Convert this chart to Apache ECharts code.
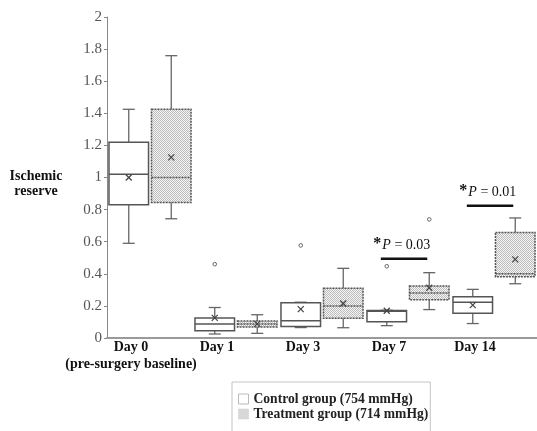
<!DOCTYPE html>
<html><head><meta charset="utf-8">
<script src="https://cdn.jsdelivr.net/npm/echarts@6/dist/echarts.min.js"></script>
<style>html,body{margin:0;padding:0;background:#fff}#c{width:537px;height:431px}</style>
</head><body><div id="c"></div>
<script>
const categories = ['Day 0\n(pre-surgery baseline)', 'Day 1', 'Day 3', 'Day 7', 'Day 14'];
const yMin = 0, yMax = 2, yStep = 0.2;
// [lower whisker, Q1, median, Q3, upper whisker]
const controlBox = [
  [0.59, 0.83, 1.02, 1.22, 1.425],
  [0.025, 0.045, 0.088, 0.125, 0.19],
  [0.065, 0.072, 0.108, 0.22, 0.223],
  [0.077, 0.102, 0.166, 0.172, 0.173],
  [0.09, 0.154, 0.222, 0.257, 0.303]
];
const controlMean = [1.0, 0.125, 0.18, 0.17, 0.205];
const controlOutliers = [[1, 0.46], [2, 0.577], [3, 0.447]];
const treatmentBox = [
  [0.743, 0.845, 1.0, 1.425, 1.759],
  [0.029, 0.069, 0.088, 0.106, 0.145],
  [0.064, 0.123, 0.2, 0.31, 0.434],
  [0.177, 0.239, 0.28, 0.324, 0.407],
  [0.338, 0.382, 0.40, 0.658, 0.748]
];
const treatmentMean = [1.125, 0.088, 0.215, 0.313, 0.49];
const treatmentOutliers = [[3, 0.739]];
const sigCategory = [3, 4];
const sigValue = [0.494, 0.824];
const sigLabel = ['0.03', '0.01'];
const seriesNames = ['Control group (754 mmHg)', 'Treatment group (714 mmHg)'];

const SERIF = '"Liberation Serif", "Times New Roman", serif';

const pc = document.createElement('canvas'); pc.width = 2; pc.height = 2;
const g = pc.getContext('2d');
g.fillStyle = '#f5f5f5'; g.fillRect(0, 0, 2, 2);
g.fillStyle = '#bcbcbc'; g.fillRect(0, 0, 1, 1); g.fillRect(1, 1, 1, 1);
const patternFill = { image: pc, repeat: 'repeat' };

function boxRender(side, fill, stroke, dash) {
  return function (params, api) {
    const cat = api.value(0);
    const band = api.size([1, 0])[0];
    const cx = api.coord([cat, 0])[0] + side * band * 0.247;
    const w = band * 0.46;
    const yv = k => api.coord([cat, api.value(k)])[1];
    const low = yv(1), q1 = yv(2), med = yv(3), q3 = yv(4), high = yv(5), mean = yv(6);
    const cap = 12;
    const ws = { stroke: '#666', lineWidth: 1.3 };
    const m = 3;
    return {
      type: 'group', children: [
        { type: 'line', shape: { x1: cx, y1: q3, x2: cx, y2: high }, style: ws },
        { type: 'line', shape: { x1: cx - cap / 2, y1: high, x2: cx + cap / 2, y2: high }, style: ws },
        { type: 'line', shape: { x1: cx, y1: q1, x2: cx, y2: low }, style: ws },
        { type: 'line', shape: { x1: cx - cap / 2, y1: low, x2: cx + cap / 2, y2: low }, style: ws },
        { type: 'rect', shape: { x: cx - w / 2, y: q3, width: w, height: q1 - q3 }, style: { fill: fill, stroke: stroke, lineWidth: 1.5, lineDash: dash } },
        { type: 'line', shape: { x1: cx - w / 2, y1: med, x2: cx + w / 2, y2: med }, style: { stroke: stroke, lineWidth: 1.5, lineDash: dash } },
        { type: 'line', shape: { x1: cx - m, y1: mean - m, x2: cx + m, y2: mean + m }, style: { stroke: '#444', lineWidth: 1.2 } },
        { type: 'line', shape: { x1: cx - m, y1: mean + m, x2: cx + m, y2: mean - m }, style: { stroke: '#444', lineWidth: 1.2 } }
      ]
    };
  };
}
function outlierRender(side) {
  return function (params, api) {
    const cat = api.value(0);
    const band = api.size([1, 0])[0];
    const p = api.coord([cat, api.value(1)]);
    return { type: 'circle', shape: { cx: p[0] + side * band * 0.247, cy: p[1], r: 1.8 }, style: { fill: '#fff', stroke: '#666', lineWidth: 1 } };
  };
}
function boxData(box, mean) {
  return box.map((b, i) => [i].concat(b).concat([mean[i]]));
}

const option = {
  animation: false,
  backgroundColor: '#fff',
  grid: { left: 107, top: 17, bottom: 93, width: 435 },
  xAxis: {
    type: 'category', data: categories,
    axisLine: { lineStyle: { color: '#9a9a9a', width: 2 } },
    axisTick: { show: false },
    axisLabel: { color: '#111', fontFamily: SERIF, fontWeight: 'bold', fontSize: 14, lineHeight: 17, margin: 1, padding: [0, 38, 0, 0], interval: 0 }
  },
  yAxis: {
    type: 'value', min: yMin, max: yMax, interval: yStep,
    splitLine: { show: false },
    axisLine: { show: true, lineStyle: { color: '#888', width: 1 } },
    axisTick: { show: true, length: 3, lineStyle: { color: '#888' } },
    axisLabel: { color: '#555', fontFamily: SERIF, fontSize: 15, margin: 5 }
  },
  legend: {
    orient: 'vertical', left: 232, top: 382, height: 70,
    padding: [10, 2, 20, 6], itemGap: 1,
    borderColor: '#c4c4c4', borderWidth: 1,
    itemWidth: 10, itemHeight: 10,
    textStyle: { color: '#222', fontFamily: SERIF, fontWeight: 'bold', fontSize: 13.6, lineHeight: 14 },
    data: [
      { name: seriesNames[0], icon: 'rect', itemStyle: { color: '#fff', borderColor: '#bbb', borderWidth: 1 } },
      { name: seriesNames[1], icon: 'rect', itemStyle: { color: patternFill, borderColor: '#ccc', borderWidth: 0.5 } }
    ]
  },
  graphic: [{
    type: 'text', x: 36, y: 184,
    style: { text: 'Ischemic\nreserve', font: 'bold 14px ' + SERIF, fill: '#111', align: 'center', verticalAlign: 'middle', lineHeight: 15 }
  }],
  series: [
    {
      name: seriesNames[0], type: 'custom', renderItem: boxRender(-1, '#fff', '#555', null),
      itemStyle: { color: '#fff', borderColor: '#bbb' },
      encode: { x: 0, y: [1, 2, 3, 4, 5, 6] }, data: boxData(controlBox, controlMean), z: 2
    },
    {
      name: seriesNames[1], type: 'custom', renderItem: boxRender(1, patternFill, '#555', [2, 1]),
      itemStyle: { color: patternFill, borderColor: '#ccc' },
      encode: { x: 0, y: [1, 2, 3, 4, 5, 6] }, data: boxData(treatmentBox, treatmentMean), z: 2
    },
    { type: 'custom', renderItem: outlierRender(-1), encode: { x: 0, y: 1 }, data: controlOutliers, z: 3 },
    { type: 'custom', renderItem: outlierRender(1), encode: { x: 0, y: 1 }, data: treatmentOutliers, z: 3 },
    {
      type: 'custom', z: 4, encode: { x: 0, y: 1 },
      data: sigCategory.map((c, i) => [c, sigValue[i]]),
      renderItem: function (params, api) {
        const cat = api.value(0);
        const band = api.size([1, 0])[0];
        const c = api.coord([cat, api.value(1)]);
        return {
          type: 'group', children: [
            { type: 'line', shape: { x1: c[0] - band * 0.316, y1: c[1], x2: c[0] + band * 0.224, y2: c[1] }, style: { stroke: '#111', lineWidth: 2.5 } },
            {
              type: 'text', x: c[0] - band * 0.072, y: c[1] - 13,
              style: {
                text: '{s|*}{p|P}{n| = ' + sigLabel[params.dataIndex] + '}',
                align: 'center', verticalAlign: 'middle',
                rich: {
                  s: { fontFamily: SERIF, fontSize: 16, fontWeight: 'bold', fill: '#111', padding: [0, 1, 3, 0] },
                  p: { fontFamily: SERIF, fontSize: 14, fontStyle: 'italic', fill: '#111' },
                  n: { fontFamily: SERIF, fontSize: 14, fill: '#111' }
                }
              }
            }
          ]
        };
      }
    }
  ]
};
const chart = echarts.init(document.getElementById('c'), null, { renderer: 'canvas' });
chart.setOption(option);
</script>
</body></html>
